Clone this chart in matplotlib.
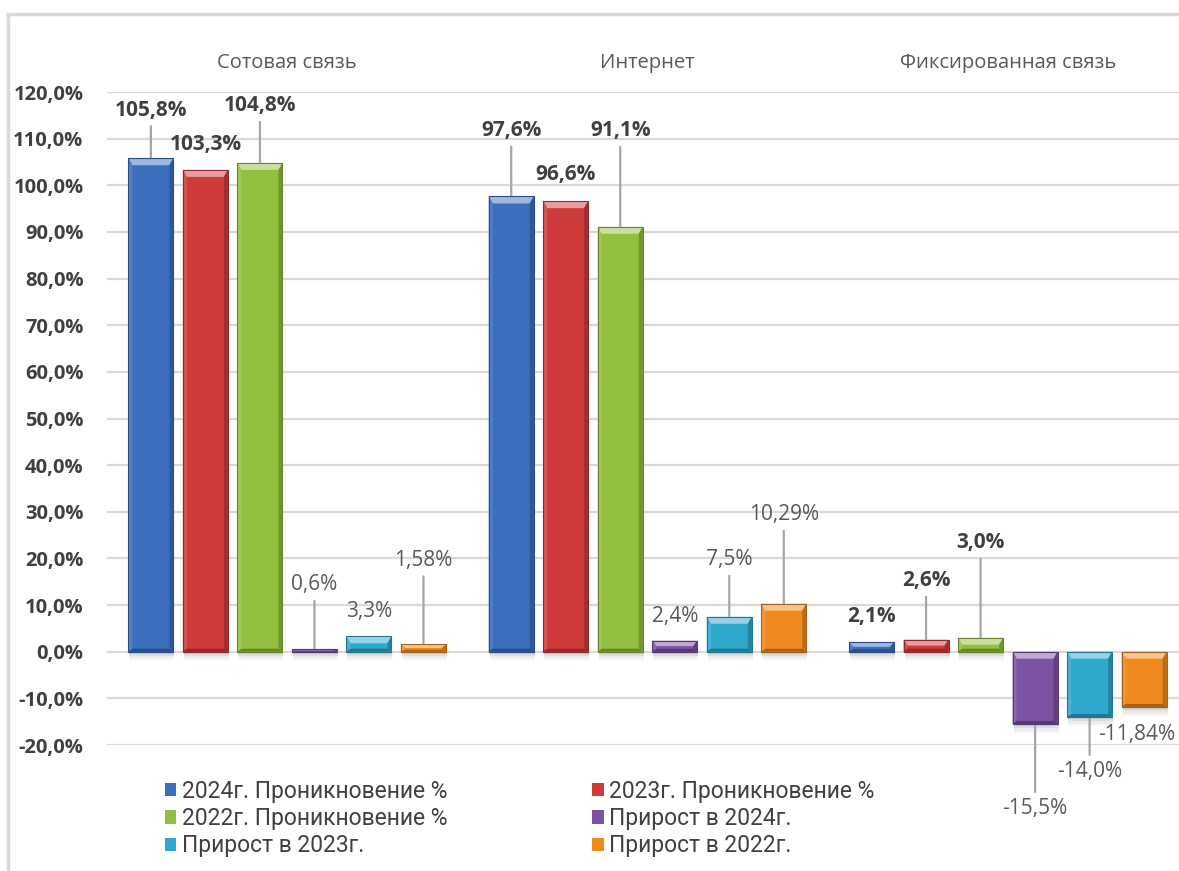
import matplotlib
matplotlib.use("Agg")
import matplotlib.pyplot as plt
import matplotlib.colors as mcolors
from matplotlib.patches import Polygon, Rectangle
from matplotlib.lines import Line2D
import numpy as np

categories = ["Сотовая связь", "Интернет", "Фиксированная связь"]
series_names = ["2024г. Проникновение %", "2023г. Проникновение %",
                "2022г. Проникновение %", "Прирост в 2024г.",
                "Прирост в 2023г.", "Прирост в 2022г."]
pen_2024 = [105.8, 97.6, 2.1]
pen_2023 = [103.3, 96.6, 2.6]
pen_2022 = [104.8, 91.1, 3.0]
growth_2024 = [0.6, 2.4, -15.5]
growth_2023 = [3.3, 7.5, -14.0]
growth_2022 = [1.58, 10.29, -11.84]
y_ticks = np.arange(-20, 121, 10)

series = [pen_2024, pen_2023, pen_2022, growth_2024, growth_2023, growth_2022]
colors = ["#3b6fbd", "#cf3b3b", "#93bf3f", "#7c52a3", "#2fa8cd", "#ef8a1f"]
bold_labels = [True, True, True, False, False, False]
# label centre offset from bar end, in px (negative = up)
label_dy = [[-48, -66, -25], [-25, -27, -59], [-57, -96, -95],
            [-64, -24, 84], [-25, -57, 54], [-84, -89, 28]]
label_dx = [[0, 0, 0], [0, 0, 0], [0, 0, 0],
            [0, 0, 0], [0, 0, 0], [0, 0, -7]]

plt.rcParams['font.family'] = ['Open Sans', 'DejaVu Sans']

W, H = 1179, 871
fig = plt.figure(figsize=(W / 100, H / 100), dpi=100)
ax_left, ax_top, ax_right, ax_bottom = 107, 92, 1188, 745
ax = fig.add_axes([ax_left / W, 1 - ax_bottom / H, (ax_right - ax_left) / W,
                   (ax_bottom - ax_top) / H])

gap = 6.61
centers = np.arange(len(categories)) * gap
xmin, xmax = -gap / 2, centers[-1] + gap / 2
ymin, ymax = -20, 120
ax.set_xlim(xmin, xmax)
ax.set_ylim(ymin, ymax)
PX_X = (xmax - xmin) / (ax_right - ax_left)
PX_Y = (ymax - ymin) / (ax_bottom - ax_top)


def mix(c, other, f):
    a = np.array(mcolors.to_rgb(c))
    b = np.array(mcolors.to_rgb(other))
    return tuple(a * (1 - f) + b * f)


def bevel(bar, color):
    x0 = bar.get_x()
    x1 = x0 + bar.get_width()
    ya, yb = bar.get_y(), bar.get_y() + bar.get_height()
    y0, y1 = min(ya, yb), max(ya, yb)
    h = y1 - y0
    s = 4 * PX_X
    t = min(7 * PX_Y, h * 0.5)
    b = min(3 * PX_Y, h * 0.25)
    # soft shadow below
    for k, a in enumerate([0.08, 0.06, 0.045, 0.03]):
        dh = (k + 1) * 2.2 * PX_Y
        ax.add_patch(Rectangle((x0 + PX_X, y0 - dh), x1 - x0, dh, color='black',
                               alpha=a, lw=0, zorder=2))
    polys = [
        ([(x0, y1), (x1, y1), (x1 - s, y1 - t), (x0 + s, y1 - t)], mix(color, 'white', 0.5)),
        ([(x0, y0), (x0, y1), (x0 + s, y1 - t), (x0 + s, y0 + b)], mix(color, 'white', 0.12)),
        ([(x1, y0), (x1, y1), (x1 - s, y1 - t), (x1 - s, y0 + b)], mix(color, 'black', 0.22)),
        ([(x0, y0), (x1, y0), (x1 - s, y0 + b), (x0 + s, y0 + b)], mix(color, 'black', 0.3)),
    ]
    for pts, c in polys:
        ax.add_patch(Polygon(pts, closed=True, color=c, lw=0, zorder=4))
    ax.add_patch(Rectangle((x0, y0), x1 - x0, h, fill=False,
                           ec=mix(color, 'black', 0.3), lw=0.8, zorder=5))


def fmt(v):
    s = f"{v:.1f}" if round(v, 1) == v else f"{v:.2f}"
    return s.replace(".", ",") + "%"


handles = []
for i, vals in enumerate(series):
    x = centers + i - 2.5
    bars = ax.bar(x, vals, width=0.826, color=colors[i], label=series_names[i],
                  lw=0, zorder=3)
    handles.append(bars)
    for bar, v, dy, dx in zip(bars, vals, label_dy[i], label_dx[i]):
        bevel(bar, colors[i])
        kw = dict(fontsize=15, ha='center', va='center', annotation_clip=False,
                  fontweight='bold' if bold_labels[i] else 'normal',
                  color='#404040' if bold_labels[i] else '#595959')
        if abs(dy) > 35:
            kw['arrowprops'] = dict(arrowstyle='-', color='#a6a6a6', lw=1.6,
                                    shrinkA=2, shrinkB=0)
        ax.annotate(fmt(v), xy=(bar.get_x() + bar.get_width() / 2, v),
                    xytext=(dx * 0.72, -dy * 0.72), textcoords='offset points', **kw)

ax.set_yticks(y_ticks)
ax.set_yticklabels([f"{t:.1f}".replace(".", ",") + "%" for t in y_ticks])
ax.tick_params(axis='y', length=0, pad=17, labelsize=14.5, labelcolor='#404040')
for lbl in ax.get_yticklabels():
    lbl.set_fontweight('bold')

ax.set_xticks(centers, categories)
ax.xaxis.tick_top()
ax.tick_params(axis='x', length=0, pad=14, labelsize=14.5, labelcolor='#595959')

ax.yaxis.grid(True, color='#d9d9d9', lw=1.6)
ax.set_axisbelow(True)
for sp in ax.spines.values():
    sp.set_visible(False)

order = [0, 2, 4, 1, 3, 5]
leg = fig.legend([handles[k] for k in order], [series_names[k] for k in order],
                 ncol=2, loc='upper left', bbox_to_anchor=(165 / W, 1 - 780 / H),
                 frameon=False, prop={'family': 'Roboto', 'size': 16.5},
                 handlelength=0.5, handleheight=0.5, handletextpad=0.25,
                 labelspacing=0.18, columnspacing=6.3, borderpad=0, borderaxespad=0)
for t in leg.get_texts():
    t.set_color('#404040')

# outer chart frame
fc = '#d9d9d9'
fig.add_artist(Line2D([8 / W, 8 / W], [0, 1 - 14 / H], color=fc, lw=2.5))
fig.add_artist(Line2D([8 / W, 1], [1 - 14 / H, 1 - 14 / H], color=fc, lw=2.5))

fig.savefig("out.png", dpi=100)
